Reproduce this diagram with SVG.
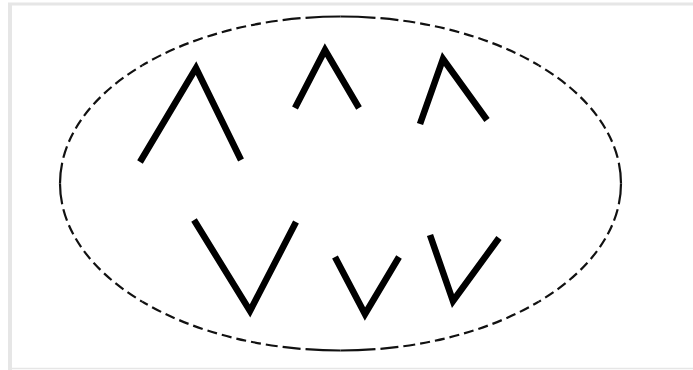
<svg xmlns="http://www.w3.org/2000/svg" width="693" height="370" viewBox="0 0 693 370">
  <style>
    .frame { stroke: #e6e6e6; fill: none; }
    .oval { fill: none; stroke: #111; stroke-width: 2.2; }
    .fromTop { stroke-dasharray: 35 5 18 5 12 5 10 5 10 5 10 5 10 5 10 5 10 5 10 5 10 5 10 5 10 5 10 5 10 5 10 5 10 5; }
    .fromSide { stroke-dasharray: 21 5 12 5 10 5 10 5 10 5 10 5 10 5 10 5 10 5 10 5 10 5 10 5 10 5 10 5 10 5 10 5; }
    .chev { fill: none; stroke: #000; stroke-width: 6.5; stroke-linejoin: miter; stroke-miterlimit: 10; stroke-linecap: butt; }
  </style>
  <rect width="693" height="370" fill="#ffffff"/>
  <g id="frame">
    <line class="frame" x1="8" y1="4" x2="693" y2="4" stroke-width="3"/>
    <line class="frame" x1="10" y1="3" x2="10" y2="370" stroke-width="4"/>
    <line class="frame" x1="8" y1="368.5" x2="693" y2="368.5" stroke-width="1.5" stroke="#f0f0f0"/>
  </g>
  <g id="oval">
    <path class="oval fromTop" d="M340.5 16.5 A280.5 167 0 0 1 538.8 65.4"/>
    <path class="oval fromTop" d="M340.5 16.5 A280.5 167 0 0 0 142.2 65.4"/>
    <path class="oval fromTop" d="M340.5 350.5 A280.5 167 0 0 0 538.8 301.6"/>
    <path class="oval fromTop" d="M340.5 350.5 A280.5 167 0 0 1 142.2 301.6"/>
    <path class="oval fromSide" d="M621 183.5 A280.5 167 0 0 0 538.8 65.4"/>
    <path class="oval fromSide" d="M621 183.5 A280.5 167 0 0 1 538.8 301.6"/>
    <path class="oval fromSide" d="M60 183.5 A280.5 167 0 0 1 142.2 65.4"/>
    <path class="oval fromSide" d="M60 183.5 A280.5 167 0 0 0 142.2 301.6"/>
  </g>
  <g id="up1"><polyline class="chev" points="140,162 196,68 241,160"/></g>
  <g id="up2"><polyline class="chev" points="295,108 325,50 359,108"/></g>
  <g id="up3"><polyline class="chev" points="420,124 443,59 487,120"/></g>
  <g id="down1"><polyline class="chev" points="194,220 250,311 296,222"/></g>
  <g id="down2"><polyline class="chev" points="335,257 365,314 399,257"/></g>
  <g id="down3"><polyline class="chev" points="430,235 453,301 499,238"/></g>
</svg>
